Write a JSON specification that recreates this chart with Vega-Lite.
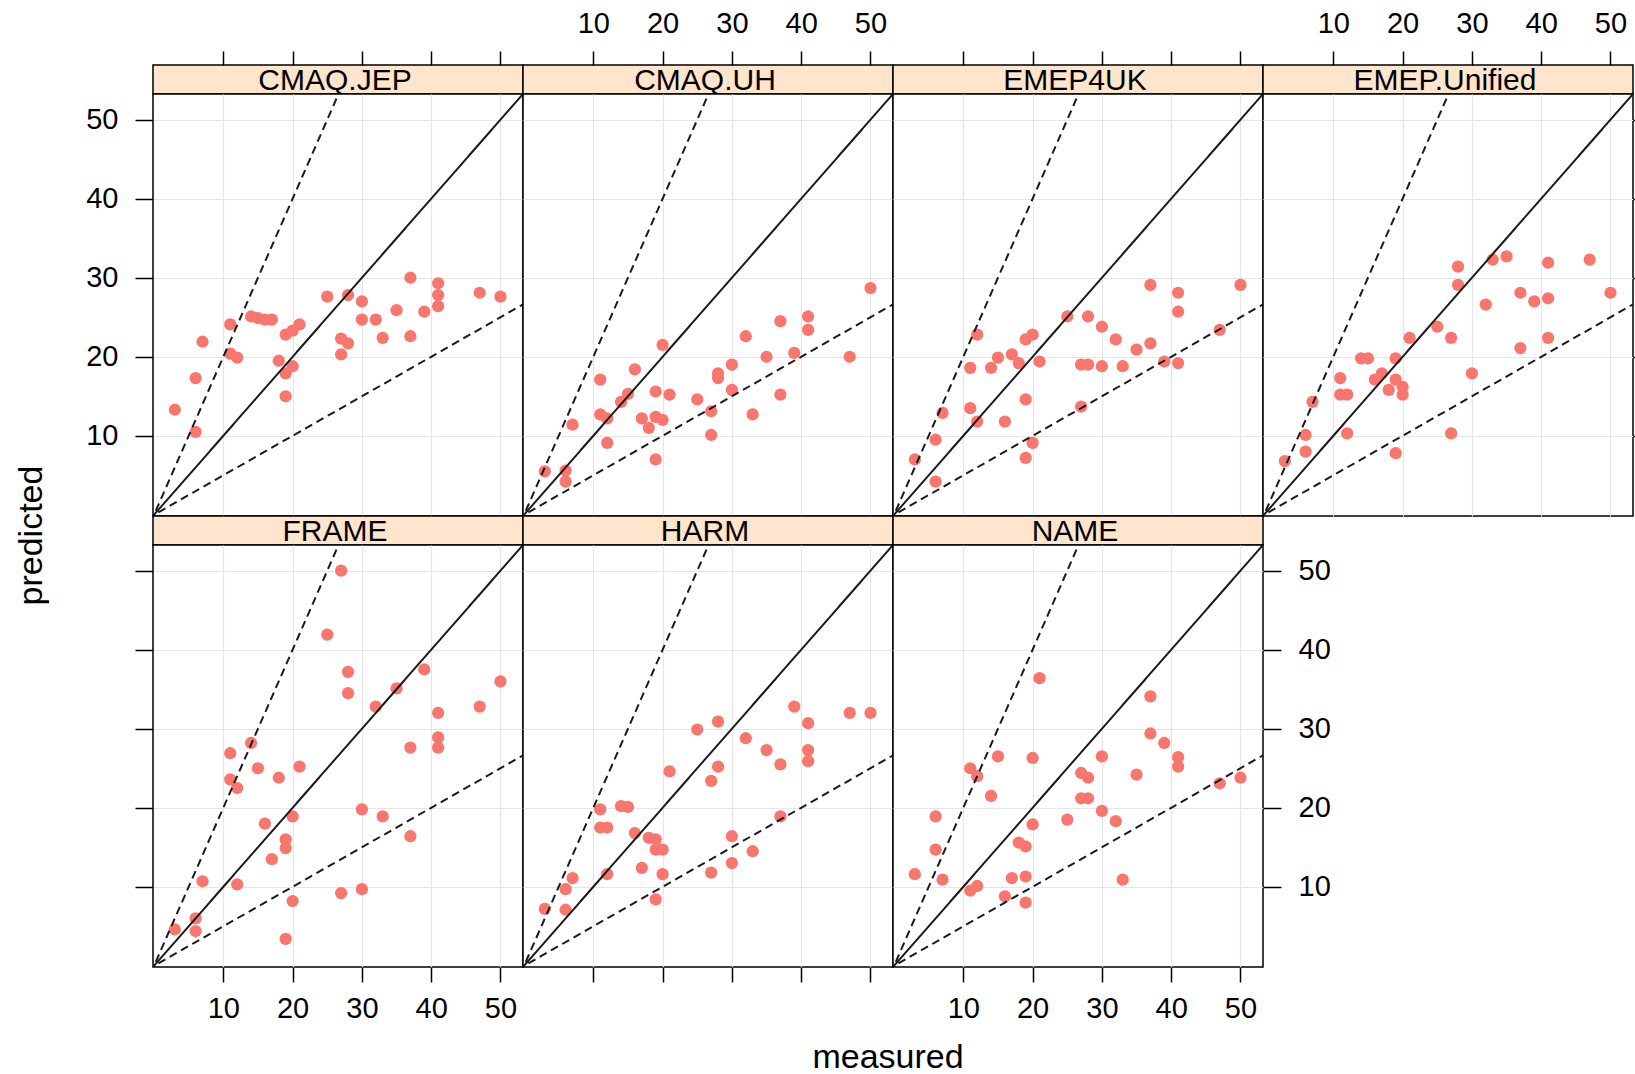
{
  "$schema": "https://vega.github.io/schema/vega-lite/v6.json",
  "background": "white",
  "padding": {"left": 13, "top": 8, "right": 0, "bottom": 0},
  "config": {"font": "Liberation Sans", "view": {"stroke": null}},
  "datasets": {
    "strips": [
      {"model": "CMAQ.JEP"}, {"model": "CMAQ.UH"}, {"model": "EMEP4UK"}, {"model": "EMEP.Unified"},
      {"model": "FRAME"}, {"model": "HARM"}, {"model": "NAME"}
    ],
    "refs": [
      {"line": "a", "style": "solid", "measured": -1, "predicted": -1},
      {"line": "a", "style": "solid", "measured": 60, "predicted": 60},
      {"line": "b", "style": "dashed", "measured": -0.5, "predicted": -1},
      {"line": "b", "style": "dashed", "measured": 30, "predicted": 60},
      {"line": "c", "style": "dashed", "measured": -1, "predicted": -0.5},
      {"line": "c", "style": "dashed", "measured": 60, "predicted": 30}
    ],
    "pts": [
      {"model": "CMAQ.JEP", "measured": 3, "predicted": 13.3},
      {"model": "CMAQ.JEP", "measured": 6, "predicted": 10.5},
      {"model": "CMAQ.JEP", "measured": 6, "predicted": 17.3},
      {"model": "CMAQ.JEP", "measured": 7, "predicted": 21.9},
      {"model": "CMAQ.JEP", "measured": 11, "predicted": 24.1},
      {"model": "CMAQ.JEP", "measured": 11, "predicted": 20.4},
      {"model": "CMAQ.JEP", "measured": 12, "predicted": 19.9},
      {"model": "CMAQ.JEP", "measured": 14, "predicted": 25.1},
      {"model": "CMAQ.JEP", "measured": 15, "predicted": 24.9},
      {"model": "CMAQ.JEP", "measured": 16, "predicted": 24.7},
      {"model": "CMAQ.JEP", "measured": 17, "predicted": 24.7},
      {"model": "CMAQ.JEP", "measured": 18, "predicted": 19.5},
      {"model": "CMAQ.JEP", "measured": 19, "predicted": 22.8},
      {"model": "CMAQ.JEP", "measured": 19, "predicted": 17.9},
      {"model": "CMAQ.JEP", "measured": 19, "predicted": 15.0},
      {"model": "CMAQ.JEP", "measured": 20, "predicted": 18.8},
      {"model": "CMAQ.JEP", "measured": 20, "predicted": 23.3},
      {"model": "CMAQ.JEP", "measured": 21, "predicted": 24.1},
      {"model": "CMAQ.JEP", "measured": 25, "predicted": 27.6},
      {"model": "CMAQ.JEP", "measured": 28, "predicted": 27.8},
      {"model": "CMAQ.JEP", "measured": 30, "predicted": 27.0},
      {"model": "CMAQ.JEP", "measured": 30, "predicted": 24.7},
      {"model": "CMAQ.JEP", "measured": 27, "predicted": 22.3},
      {"model": "CMAQ.JEP", "measured": 28, "predicted": 21.7},
      {"model": "CMAQ.JEP", "measured": 27, "predicted": 20.3},
      {"model": "CMAQ.JEP", "measured": 32, "predicted": 24.7},
      {"model": "CMAQ.JEP", "measured": 33, "predicted": 22.4},
      {"model": "CMAQ.JEP", "measured": 35, "predicted": 25.9},
      {"model": "CMAQ.JEP", "measured": 37, "predicted": 30.0},
      {"model": "CMAQ.JEP", "measured": 37, "predicted": 22.6},
      {"model": "CMAQ.JEP", "measured": 39, "predicted": 25.7},
      {"model": "CMAQ.JEP", "measured": 41, "predicted": 29.3},
      {"model": "CMAQ.JEP", "measured": 41, "predicted": 27.8},
      {"model": "CMAQ.JEP", "measured": 41, "predicted": 26.4},
      {"model": "CMAQ.JEP", "measured": 47, "predicted": 28.1},
      {"model": "CMAQ.JEP", "measured": 50, "predicted": 27.6},

      {"model": "CMAQ.UH", "measured": 3, "predicted": 5.5},
      {"model": "CMAQ.UH", "measured": 6, "predicted": 5.6},
      {"model": "CMAQ.UH", "measured": 6, "predicted": 4.2},
      {"model": "CMAQ.UH", "measured": 7, "predicted": 11.4},
      {"model": "CMAQ.UH", "measured": 11, "predicted": 17.1},
      {"model": "CMAQ.UH", "measured": 11, "predicted": 12.7},
      {"model": "CMAQ.UH", "measured": 12, "predicted": 12.2},
      {"model": "CMAQ.UH", "measured": 12, "predicted": 9.1},
      {"model": "CMAQ.UH", "measured": 14, "predicted": 14.3},
      {"model": "CMAQ.UH", "measured": 15, "predicted": 15.3},
      {"model": "CMAQ.UH", "measured": 16, "predicted": 18.4},
      {"model": "CMAQ.UH", "measured": 17, "predicted": 12.2},
      {"model": "CMAQ.UH", "measured": 18, "predicted": 11.0},
      {"model": "CMAQ.UH", "measured": 19, "predicted": 12.4},
      {"model": "CMAQ.UH", "measured": 19, "predicted": 15.6},
      {"model": "CMAQ.UH", "measured": 19, "predicted": 7.0},
      {"model": "CMAQ.UH", "measured": 20, "predicted": 21.5},
      {"model": "CMAQ.UH", "measured": 20, "predicted": 12.0},
      {"model": "CMAQ.UH", "measured": 21, "predicted": 15.2},
      {"model": "CMAQ.UH", "measured": 25, "predicted": 14.6},
      {"model": "CMAQ.UH", "measured": 27, "predicted": 13.1},
      {"model": "CMAQ.UH", "measured": 27, "predicted": 10.1},
      {"model": "CMAQ.UH", "measured": 28, "predicted": 17.9},
      {"model": "CMAQ.UH", "measured": 28, "predicted": 17.3},
      {"model": "CMAQ.UH", "measured": 30, "predicted": 19.0},
      {"model": "CMAQ.UH", "measured": 30, "predicted": 15.8},
      {"model": "CMAQ.UH", "measured": 32, "predicted": 22.6},
      {"model": "CMAQ.UH", "measured": 33, "predicted": 12.7},
      {"model": "CMAQ.UH", "measured": 35, "predicted": 20.0},
      {"model": "CMAQ.UH", "measured": 37, "predicted": 24.5},
      {"model": "CMAQ.UH", "measured": 37, "predicted": 15.2},
      {"model": "CMAQ.UH", "measured": 39, "predicted": 20.5},
      {"model": "CMAQ.UH", "measured": 41, "predicted": 25.1},
      {"model": "CMAQ.UH", "measured": 41, "predicted": 23.4},
      {"model": "CMAQ.UH", "measured": 47, "predicted": 20.0},
      {"model": "CMAQ.UH", "measured": 50, "predicted": 28.7},

      {"model": "EMEP4UK", "measured": 3, "predicted": 7.0},
      {"model": "EMEP4UK", "measured": 6, "predicted": 4.2},
      {"model": "EMEP4UK", "measured": 6, "predicted": 9.5},
      {"model": "EMEP4UK", "measured": 7, "predicted": 12.9},
      {"model": "EMEP4UK", "measured": 11, "predicted": 18.6},
      {"model": "EMEP4UK", "measured": 11, "predicted": 13.5},
      {"model": "EMEP4UK", "measured": 12, "predicted": 22.8},
      {"model": "EMEP4UK", "measured": 12, "predicted": 11.8},
      {"model": "EMEP4UK", "measured": 14, "predicted": 18.6},
      {"model": "EMEP4UK", "measured": 15, "predicted": 19.9},
      {"model": "EMEP4UK", "measured": 16, "predicted": 11.8},
      {"model": "EMEP4UK", "measured": 17, "predicted": 20.3},
      {"model": "EMEP4UK", "measured": 18, "predicted": 19.2},
      {"model": "EMEP4UK", "measured": 19, "predicted": 22.2},
      {"model": "EMEP4UK", "measured": 19, "predicted": 14.6},
      {"model": "EMEP4UK", "measured": 20, "predicted": 22.8},
      {"model": "EMEP4UK", "measured": 20, "predicted": 9.1},
      {"model": "EMEP4UK", "measured": 19, "predicted": 7.2},
      {"model": "EMEP4UK", "measured": 21, "predicted": 19.4},
      {"model": "EMEP4UK", "measured": 25, "predicted": 25.1},
      {"model": "EMEP4UK", "measured": 27, "predicted": 13.7},
      {"model": "EMEP4UK", "measured": 27, "predicted": 19.0},
      {"model": "EMEP4UK", "measured": 28, "predicted": 19.0},
      {"model": "EMEP4UK", "measured": 28, "predicted": 25.1},
      {"model": "EMEP4UK", "measured": 30, "predicted": 23.8},
      {"model": "EMEP4UK", "measured": 30, "predicted": 18.8},
      {"model": "EMEP4UK", "measured": 32, "predicted": 22.2},
      {"model": "EMEP4UK", "measured": 33, "predicted": 18.8},
      {"model": "EMEP4UK", "measured": 35, "predicted": 20.9},
      {"model": "EMEP4UK", "measured": 37, "predicted": 21.7},
      {"model": "EMEP4UK", "measured": 37, "predicted": 29.1},
      {"model": "EMEP4UK", "measured": 39, "predicted": 19.4},
      {"model": "EMEP4UK", "measured": 41, "predicted": 28.1},
      {"model": "EMEP4UK", "measured": 41, "predicted": 25.7},
      {"model": "EMEP4UK", "measured": 41, "predicted": 19.2},
      {"model": "EMEP4UK", "measured": 47, "predicted": 23.4},
      {"model": "EMEP4UK", "measured": 50, "predicted": 29.1},

      {"model": "EMEP.Unified", "measured": 3, "predicted": 6.8},
      {"model": "EMEP.Unified", "measured": 6, "predicted": 8.0},
      {"model": "EMEP.Unified", "measured": 6, "predicted": 10.1},
      {"model": "EMEP.Unified", "measured": 7, "predicted": 14.3},
      {"model": "EMEP.Unified", "measured": 11, "predicted": 17.3},
      {"model": "EMEP.Unified", "measured": 11, "predicted": 15.2},
      {"model": "EMEP.Unified", "measured": 12, "predicted": 15.2},
      {"model": "EMEP.Unified", "measured": 12, "predicted": 10.3},
      {"model": "EMEP.Unified", "measured": 14, "predicted": 19.8},
      {"model": "EMEP.Unified", "measured": 15, "predicted": 19.8},
      {"model": "EMEP.Unified", "measured": 16, "predicted": 17.1},
      {"model": "EMEP.Unified", "measured": 17, "predicted": 17.9},
      {"model": "EMEP.Unified", "measured": 18, "predicted": 15.8},
      {"model": "EMEP.Unified", "measured": 19, "predicted": 19.8},
      {"model": "EMEP.Unified", "measured": 19, "predicted": 17.1},
      {"model": "EMEP.Unified", "measured": 20, "predicted": 16.2},
      {"model": "EMEP.Unified", "measured": 20, "predicted": 15.2},
      {"model": "EMEP.Unified", "measured": 19, "predicted": 7.8},
      {"model": "EMEP.Unified", "measured": 21, "predicted": 22.4},
      {"model": "EMEP.Unified", "measured": 25, "predicted": 23.8},
      {"model": "EMEP.Unified", "measured": 27, "predicted": 22.4},
      {"model": "EMEP.Unified", "measured": 27, "predicted": 10.3},
      {"model": "EMEP.Unified", "measured": 28, "predicted": 31.4},
      {"model": "EMEP.Unified", "measured": 28, "predicted": 29.1},
      {"model": "EMEP.Unified", "measured": 30, "predicted": 17.9},
      {"model": "EMEP.Unified", "measured": 32, "predicted": 26.6},
      {"model": "EMEP.Unified", "measured": 33, "predicted": 32.3},
      {"model": "EMEP.Unified", "measured": 35, "predicted": 32.7},
      {"model": "EMEP.Unified", "measured": 37, "predicted": 28.1},
      {"model": "EMEP.Unified", "measured": 37, "predicted": 21.1},
      {"model": "EMEP.Unified", "measured": 39, "predicted": 27.0},
      {"model": "EMEP.Unified", "measured": 41, "predicted": 31.9},
      {"model": "EMEP.Unified", "measured": 41, "predicted": 27.4},
      {"model": "EMEP.Unified", "measured": 41, "predicted": 22.4},
      {"model": "EMEP.Unified", "measured": 47, "predicted": 32.3},
      {"model": "EMEP.Unified", "measured": 50, "predicted": 28.1},

      {"model": "FRAME", "measured": 3, "predicted": 4.6},
      {"model": "FRAME", "measured": 6, "predicted": 6.0},
      {"model": "FRAME", "measured": 6, "predicted": 4.4},
      {"model": "FRAME", "measured": 7, "predicted": 10.7},
      {"model": "FRAME", "measured": 11, "predicted": 26.9},
      {"model": "FRAME", "measured": 11, "predicted": 23.6},
      {"model": "FRAME", "measured": 12, "predicted": 22.5},
      {"model": "FRAME", "measured": 12, "predicted": 10.3},
      {"model": "FRAME", "measured": 14, "predicted": 28.2},
      {"model": "FRAME", "measured": 15, "predicted": 25.0},
      {"model": "FRAME", "measured": 16, "predicted": 18.0},
      {"model": "FRAME", "measured": 17, "predicted": 13.5},
      {"model": "FRAME", "measured": 18, "predicted": 23.8},
      {"model": "FRAME", "measured": 19, "predicted": 16.0},
      {"model": "FRAME", "measured": 19, "predicted": 14.9},
      {"model": "FRAME", "measured": 19, "predicted": 3.4},
      {"model": "FRAME", "measured": 20, "predicted": 18.9},
      {"model": "FRAME", "measured": 20, "predicted": 8.2},
      {"model": "FRAME", "measured": 21, "predicted": 25.2},
      {"model": "FRAME", "measured": 25, "predicted": 41.9},
      {"model": "FRAME", "measured": 27, "predicted": 50.0},
      {"model": "FRAME", "measured": 27, "predicted": 9.2},
      {"model": "FRAME", "measured": 28, "predicted": 37.2},
      {"model": "FRAME", "measured": 28, "predicted": 34.5},
      {"model": "FRAME", "measured": 30, "predicted": 19.8},
      {"model": "FRAME", "measured": 30, "predicted": 9.7},
      {"model": "FRAME", "measured": 32, "predicted": 32.8},
      {"model": "FRAME", "measured": 33, "predicted": 18.9},
      {"model": "FRAME", "measured": 35, "predicted": 35.1},
      {"model": "FRAME", "measured": 37, "predicted": 27.6},
      {"model": "FRAME", "measured": 37, "predicted": 16.4},
      {"model": "FRAME", "measured": 39, "predicted": 37.5},
      {"model": "FRAME", "measured": 41, "predicted": 32.0},
      {"model": "FRAME", "measured": 41, "predicted": 28.9},
      {"model": "FRAME", "measured": 41, "predicted": 27.6},
      {"model": "FRAME", "measured": 47, "predicted": 32.8},
      {"model": "FRAME", "measured": 50, "predicted": 36.0},

      {"model": "HARM", "measured": 3, "predicted": 7.2},
      {"model": "HARM", "measured": 6, "predicted": 7.1},
      {"model": "HARM", "measured": 6, "predicted": 9.7},
      {"model": "HARM", "measured": 7, "predicted": 11.1},
      {"model": "HARM", "measured": 11, "predicted": 19.8},
      {"model": "HARM", "measured": 11, "predicted": 17.5},
      {"model": "HARM", "measured": 12, "predicted": 17.5},
      {"model": "HARM", "measured": 12, "predicted": 11.6},
      {"model": "HARM", "measured": 14, "predicted": 20.2},
      {"model": "HARM", "measured": 15, "predicted": 20.1},
      {"model": "HARM", "measured": 16, "predicted": 16.8},
      {"model": "HARM", "measured": 17, "predicted": 12.4},
      {"model": "HARM", "measured": 18, "predicted": 16.2},
      {"model": "HARM", "measured": 19, "predicted": 16.0},
      {"model": "HARM", "measured": 19, "predicted": 14.7},
      {"model": "HARM", "measured": 19, "predicted": 8.4},
      {"model": "HARM", "measured": 20, "predicted": 14.7},
      {"model": "HARM", "measured": 20, "predicted": 11.6},
      {"model": "HARM", "measured": 21, "predicted": 24.6},
      {"model": "HARM", "measured": 25, "predicted": 29.9},
      {"model": "HARM", "measured": 27, "predicted": 23.4},
      {"model": "HARM", "measured": 27, "predicted": 11.8},
      {"model": "HARM", "measured": 28, "predicted": 30.9},
      {"model": "HARM", "measured": 28, "predicted": 25.2},
      {"model": "HARM", "measured": 30, "predicted": 16.4},
      {"model": "HARM", "measured": 30, "predicted": 13.0},
      {"model": "HARM", "measured": 32, "predicted": 28.8},
      {"model": "HARM", "measured": 33, "predicted": 14.5},
      {"model": "HARM", "measured": 35, "predicted": 27.3},
      {"model": "HARM", "measured": 37, "predicted": 25.5},
      {"model": "HARM", "measured": 37, "predicted": 18.9},
      {"model": "HARM", "measured": 39, "predicted": 32.8},
      {"model": "HARM", "measured": 41, "predicted": 30.7},
      {"model": "HARM", "measured": 41, "predicted": 27.3},
      {"model": "HARM", "measured": 41, "predicted": 25.9},
      {"model": "HARM", "measured": 47, "predicted": 32.0},
      {"model": "HARM", "measured": 50, "predicted": 32.0},

      {"model": "NAME", "measured": 3, "predicted": 11.6},
      {"model": "NAME", "measured": 6, "predicted": 18.9},
      {"model": "NAME", "measured": 6, "predicted": 14.7},
      {"model": "NAME", "measured": 7, "predicted": 10.9},
      {"model": "NAME", "measured": 11, "predicted": 25.0},
      {"model": "NAME", "measured": 11, "predicted": 9.5},
      {"model": "NAME", "measured": 12, "predicted": 24.0},
      {"model": "NAME", "measured": 12, "predicted": 10.1},
      {"model": "NAME", "measured": 14, "predicted": 21.5},
      {"model": "NAME", "measured": 15, "predicted": 26.5},
      {"model": "NAME", "measured": 16, "predicted": 8.8},
      {"model": "NAME", "measured": 17, "predicted": 11.1},
      {"model": "NAME", "measured": 18, "predicted": 15.6},
      {"model": "NAME", "measured": 19, "predicted": 15.1},
      {"model": "NAME", "measured": 19, "predicted": 11.3},
      {"model": "NAME", "measured": 19, "predicted": 8.0},
      {"model": "NAME", "measured": 20, "predicted": 26.3},
      {"model": "NAME", "measured": 20, "predicted": 17.9},
      {"model": "NAME", "measured": 21, "predicted": 36.4},
      {"model": "NAME", "measured": 25, "predicted": 18.5},
      {"model": "NAME", "measured": 27, "predicted": 24.4},
      {"model": "NAME", "measured": 27, "predicted": 21.2},
      {"model": "NAME", "measured": 28, "predicted": 23.8},
      {"model": "NAME", "measured": 28, "predicted": 21.2},
      {"model": "NAME", "measured": 30, "predicted": 26.5},
      {"model": "NAME", "measured": 30, "predicted": 19.6},
      {"model": "NAME", "measured": 32, "predicted": 18.3},
      {"model": "NAME", "measured": 33, "predicted": 10.9},
      {"model": "NAME", "measured": 35, "predicted": 24.2},
      {"model": "NAME", "measured": 37, "predicted": 34.1},
      {"model": "NAME", "measured": 37, "predicted": 29.4},
      {"model": "NAME", "measured": 39, "predicted": 28.2},
      {"model": "NAME", "measured": 41, "predicted": 26.4},
      {"model": "NAME", "measured": 41, "predicted": 25.2},
      {"model": "NAME", "measured": 47, "predicted": 23.1},
      {"model": "NAME", "measured": 50, "predicted": 23.8}
    ]
  },
  "columns": 4,
  "spacing": 0,
  "bounds": "flush",
  "align": "each",
  "concat": [
    {
      "width": 370, "height": 29,
      "view": {"fill": "#ffe5cc", "stroke": "black", "strokeWidth": 1.5},
      "layer": [
        {"data": {"name": "pts"}, "transform": [{"filter": "datum.model === 'CMAQ.JEP'"}],
         "mark": {"type": "point", "opacity": 0},
         "encoding": {"x": {"field": "measured", "type": "quantitative", "scale": {"domain": [-0.15, 53.25], "nice": false, "zero": false},
           "axis": {"orient": "top", "values": [10, 20, 30, 40, 50], "grid": false, "domain": false, "tickSize": 14, "tickWidth": 1.5, "tickColor": "black", "labels": false, "title": null}}}},
        {"data": {"name": "strips"}, "transform": [{"filter": "datum.model === 'CMAQ.JEP'"}],
         "mark": {"type": "text", "font": "Liberation Sans", "fontSize": 30, "color": "black", "baseline": "middle", "align": "center", "dx": -3, "dy": 1},
         "encoding": {"text": {"field": "model", "type": "nominal"}}}
      ]
    },
    {
      "width": 370, "height": 29,
      "view": {"fill": "#ffe5cc", "stroke": "black", "strokeWidth": 1.5},
      "layer": [
        {"data": {"name": "pts"}, "transform": [{"filter": "datum.model === 'CMAQ.UH'"}],
         "mark": {"type": "point", "opacity": 0},
         "encoding": {"x": {"field": "measured", "type": "quantitative", "scale": {"domain": [-0.15, 53.25], "nice": false, "zero": false},
           "axis": {"orient": "top", "values": [10, 20, 30, 40, 50], "grid": false, "domain": false, "tickSize": 14, "tickWidth": 1.5, "tickColor": "black",
             "labelFont": "Liberation Sans", "labelFontSize": 29, "labelColor": "black", "labelPadding": 19, "labelBaseline": "alphabetic", "labelFlush": false, "labelOverlap": false, "title": null}}}},
        {"data": {"name": "strips"}, "transform": [{"filter": "datum.model === 'CMAQ.UH'"}],
         "mark": {"type": "text", "font": "Liberation Sans", "fontSize": 30, "color": "black", "baseline": "middle", "align": "center", "dx": -3, "dy": 1},
         "encoding": {"text": {"field": "model", "type": "nominal"}}}
      ]
    },
    {
      "width": 370, "height": 29,
      "view": {"fill": "#ffe5cc", "stroke": "black", "strokeWidth": 1.5},
      "layer": [
        {"data": {"name": "pts"}, "transform": [{"filter": "datum.model === 'EMEP4UK'"}],
         "mark": {"type": "point", "opacity": 0},
         "encoding": {"x": {"field": "measured", "type": "quantitative", "scale": {"domain": [-0.15, 53.25], "nice": false, "zero": false},
           "axis": {"orient": "top", "values": [10, 20, 30, 40, 50], "grid": false, "domain": false, "tickSize": 14, "tickWidth": 1.5, "tickColor": "black", "labels": false, "title": null}}}},
        {"data": {"name": "strips"}, "transform": [{"filter": "datum.model === 'EMEP4UK'"}],
         "mark": {"type": "text", "font": "Liberation Sans", "fontSize": 30, "color": "black", "baseline": "middle", "align": "center", "dx": -3, "dy": 1},
         "encoding": {"text": {"field": "model", "type": "nominal"}}}
      ]
    },
    {
      "width": 370, "height": 29,
      "view": {"fill": "#ffe5cc", "stroke": "black", "strokeWidth": 1.5},
      "layer": [
        {"data": {"name": "pts"}, "transform": [{"filter": "datum.model === 'EMEP.Unified'"}],
         "mark": {"type": "point", "opacity": 0},
         "encoding": {"x": {"field": "measured", "type": "quantitative", "scale": {"domain": [-0.15, 53.25], "nice": false, "zero": false},
           "axis": {"orient": "top", "values": [10, 20, 30, 40, 50], "grid": false, "domain": false, "tickSize": 14, "tickWidth": 1.5, "tickColor": "black",
             "labelFont": "Liberation Sans", "labelFontSize": 29, "labelColor": "black", "labelPadding": 19, "labelBaseline": "alphabetic", "labelFlush": false, "labelOverlap": false, "title": null}}}},
        {"data": {"name": "strips"}, "transform": [{"filter": "datum.model === 'EMEP.Unified'"}],
         "mark": {"type": "text", "font": "Liberation Sans", "fontSize": 30, "color": "black", "baseline": "middle", "align": "center", "dx": -3, "dy": 1},
         "encoding": {"text": {"field": "model", "type": "nominal"}}}
      ]
    },
    {
      "width": 370, "height": 422,
      "view": {"fill": "white", "stroke": "black", "strokeWidth": 1.5},
      "layer": [
        {"data": {"name": "pts"}, "transform": [{"filter": "datum.model === 'CMAQ.JEP'"}],
         "mark": {"type": "circle", "size": 150, "opacity": 1, "color": "#f8766d"},
         "encoding": {
           "x": {"field": "measured", "type": "quantitative", "scale": {"domain": [-0.15, 53.25], "nice": false, "zero": false}, "axis": null},
           "y": {"field": "predicted", "type": "quantitative", "scale": {"domain": [-0.15, 53.25], "nice": false, "zero": false},
             "axis": {"orient": "left", "values": [10, 20, 30, 40, 50], "grid": false, "domain": false, "tickSize": 18, "tickWidth": 1.5, "tickColor": "black",
               "labelFont": "Liberation Sans", "labelFontSize": 29, "labelColor": "black", "labelPadding": 17, "labelFlush": false, "labelOverlap": false,
               "title": "predicted", "titleFont": "Liberation Sans", "titleFontSize": 34, "titleFontWeight": "normal", "titleColor": "black",
               "titleX": -121.5, "titleY": 441, "titleAngle": 270, "titleAlign": "center", "titleBaseline": "middle"}}}},
        {"data": {"name": "refs"},
         "mark": {"type": "line", "clip": true, "color": "#1a1a1a", "strokeWidth": 2},
         "encoding": {
           "x": {"field": "measured", "type": "quantitative", "scale": {"domain": [-0.15, 53.25], "nice": false, "zero": false},
             "axis": {"orient": "bottom", "grid": true, "gridColor": "#e6e6e6", "gridWidth": 1.2, "ticks": false, "labels": false, "domain": false, "title": null, "values": [10, 20, 30, 40, 50]}},
           "y": {"field": "predicted", "type": "quantitative", "scale": {"domain": [-0.15, 53.25], "nice": false, "zero": false},
             "axis": {"orient": "right", "grid": true, "gridColor": "#e6e6e6", "gridWidth": 1.2, "ticks": false, "labels": false, "domain": false, "title": null, "values": [10, 20, 30, 40, 50]}},
           "detail": {"field": "line", "type": "nominal"},
           "strokeDash": {"field": "style", "type": "nominal", "scale": {"domain": ["solid", "dashed"], "range": [[1, 0], [8, 5]]}, "legend": null}}}
      ],
      "resolve": {"axis": {"x": "independent", "y": "independent"}}
    },
    {
      "width": 370, "height": 422,
      "view": {"fill": "white", "stroke": "black", "strokeWidth": 1.5},
      "layer": [
        {"data": {"name": "pts"}, "transform": [{"filter": "datum.model === 'CMAQ.UH'"}],
         "mark": {"type": "circle", "size": 150, "opacity": 1, "color": "#f8766d"},
         "encoding": {
           "x": {"field": "measured", "type": "quantitative", "scale": {"domain": [-0.15, 53.25], "nice": false, "zero": false}, "axis": null},
           "y": {"field": "predicted", "type": "quantitative", "scale": {"domain": [-0.15, 53.25], "nice": false, "zero": false}, "axis": null}}},
        {"data": {"name": "refs"},
         "mark": {"type": "line", "clip": true, "color": "#1a1a1a", "strokeWidth": 2},
         "encoding": {
           "x": {"field": "measured", "type": "quantitative", "scale": {"domain": [-0.15, 53.25], "nice": false, "zero": false},
             "axis": {"orient": "bottom", "grid": true, "gridColor": "#e6e6e6", "gridWidth": 1.2, "ticks": false, "labels": false, "domain": false, "title": null, "values": [10, 20, 30, 40, 50]}},
           "y": {"field": "predicted", "type": "quantitative", "scale": {"domain": [-0.15, 53.25], "nice": false, "zero": false},
             "axis": {"orient": "right", "grid": true, "gridColor": "#e6e6e6", "gridWidth": 1.2, "ticks": false, "labels": false, "domain": false, "title": null, "values": [10, 20, 30, 40, 50]}},
           "detail": {"field": "line", "type": "nominal"},
           "strokeDash": {"field": "style", "type": "nominal", "scale": {"domain": ["solid", "dashed"], "range": [[1, 0], [8, 5]]}, "legend": null}}}
      ],
      "resolve": {"axis": {"x": "independent", "y": "independent"}}
    },
    {
      "width": 370, "height": 422,
      "view": {"fill": "white", "stroke": "black", "strokeWidth": 1.5},
      "layer": [
        {"data": {"name": "pts"}, "transform": [{"filter": "datum.model === 'EMEP4UK'"}],
         "mark": {"type": "circle", "size": 150, "opacity": 1, "color": "#f8766d"},
         "encoding": {
           "x": {"field": "measured", "type": "quantitative", "scale": {"domain": [-0.15, 53.25], "nice": false, "zero": false}, "axis": null},
           "y": {"field": "predicted", "type": "quantitative", "scale": {"domain": [-0.15, 53.25], "nice": false, "zero": false}, "axis": null}}},
        {"data": {"name": "refs"},
         "mark": {"type": "line", "clip": true, "color": "#1a1a1a", "strokeWidth": 2},
         "encoding": {
           "x": {"field": "measured", "type": "quantitative", "scale": {"domain": [-0.15, 53.25], "nice": false, "zero": false},
             "axis": {"orient": "bottom", "grid": true, "gridColor": "#e6e6e6", "gridWidth": 1.2, "ticks": false, "labels": false, "domain": false, "title": null, "values": [10, 20, 30, 40, 50]}},
           "y": {"field": "predicted", "type": "quantitative", "scale": {"domain": [-0.15, 53.25], "nice": false, "zero": false},
             "axis": {"orient": "right", "grid": true, "gridColor": "#e6e6e6", "gridWidth": 1.2, "ticks": false, "labels": false, "domain": false, "title": null, "values": [10, 20, 30, 40, 50]}},
           "detail": {"field": "line", "type": "nominal"},
           "strokeDash": {"field": "style", "type": "nominal", "scale": {"domain": ["solid", "dashed"], "range": [[1, 0], [8, 5]]}, "legend": null}}}
      ],
      "resolve": {"axis": {"x": "independent", "y": "independent"}}
    },
    {
      "width": 370, "height": 422,
      "view": {"fill": "white", "stroke": "black", "strokeWidth": 1.5},
      "layer": [
        {"data": {"name": "pts"}, "transform": [{"filter": "datum.model === 'EMEP.Unified'"}],
         "mark": {"type": "circle", "size": 150, "opacity": 1, "color": "#f8766d"},
         "encoding": {
           "x": {"field": "measured", "type": "quantitative", "scale": {"domain": [-0.15, 53.25], "nice": false, "zero": false}, "axis": null},
           "y": {"field": "predicted", "type": "quantitative", "scale": {"domain": [-0.15, 53.25], "nice": false, "zero": false},
             "axis": {"orient": "right", "values": [10, 20, 30, 40, 50], "grid": false, "domain": false, "tickSize": 18, "tickWidth": 1.5, "tickColor": "black", "labels": false, "title": null}}}},
        {"data": {"name": "refs"},
         "mark": {"type": "line", "clip": true, "color": "#1a1a1a", "strokeWidth": 2},
         "encoding": {
           "x": {"field": "measured", "type": "quantitative", "scale": {"domain": [-0.15, 53.25], "nice": false, "zero": false},
             "axis": {"orient": "bottom", "grid": true, "gridColor": "#e6e6e6", "gridWidth": 1.2, "ticks": false, "labels": false, "domain": false, "title": null, "values": [10, 20, 30, 40, 50]}},
           "y": {"field": "predicted", "type": "quantitative", "scale": {"domain": [-0.15, 53.25], "nice": false, "zero": false},
             "axis": {"orient": "left", "grid": true, "gridColor": "#e6e6e6", "gridWidth": 1.2, "ticks": false, "labels": false, "domain": false, "title": null, "values": [10, 20, 30, 40, 50]}},
           "detail": {"field": "line", "type": "nominal"},
           "strokeDash": {"field": "style", "type": "nominal", "scale": {"domain": ["solid", "dashed"], "range": [[1, 0], [8, 5]]}, "legend": null}}}
      ],
      "resolve": {"axis": {"x": "independent", "y": "independent"}}
    },
    {
      "width": 370, "height": 29,
      "view": {"fill": "#ffe5cc", "stroke": "black", "strokeWidth": 1.5},
      "data": {"name": "strips"}, "transform": [{"filter": "datum.model === 'FRAME'"}],
      "mark": {"type": "text", "font": "Liberation Sans", "fontSize": 30, "color": "black", "baseline": "middle", "align": "center", "dx": -3, "dy": 1},
      "encoding": {"text": {"field": "model", "type": "nominal"}}
    },
    {
      "width": 370, "height": 29,
      "view": {"fill": "#ffe5cc", "stroke": "black", "strokeWidth": 1.5},
      "data": {"name": "strips"}, "transform": [{"filter": "datum.model === 'HARM'"}],
      "mark": {"type": "text", "font": "Liberation Sans", "fontSize": 30, "color": "black", "baseline": "middle", "align": "center", "dx": -3, "dy": 1},
      "encoding": {"text": {"field": "model", "type": "nominal"}}
    },
    {
      "width": 370, "height": 29,
      "view": {"fill": "#ffe5cc", "stroke": "black", "strokeWidth": 1.5},
      "data": {"name": "strips"}, "transform": [{"filter": "datum.model === 'NAME'"}],
      "mark": {"type": "text", "font": "Liberation Sans", "fontSize": 30, "color": "black", "baseline": "middle", "align": "center", "dx": -3, "dy": 1},
      "encoding": {"text": {"field": "model", "type": "nominal"}}
    },
    {
      "width": 370, "height": 29,
      "view": {"stroke": null, "fill": null},
      "data": {"name": "strips"}, "transform": [{"filter": "false"}],
      "mark": {"type": "text"},
      "encoding": {"text": {"field": "model", "type": "nominal"}}
    },
    {
      "width": 370, "height": 422,
      "view": {"fill": "white", "stroke": "black", "strokeWidth": 1.5},
      "layer": [
        {"data": {"name": "pts"}, "transform": [{"filter": "datum.model === 'FRAME'"}],
         "mark": {"type": "circle", "size": 150, "opacity": 1, "color": "#f8766d"},
         "encoding": {
           "x": {"field": "measured", "type": "quantitative", "scale": {"domain": [-0.15, 53.25], "nice": false, "zero": false},
             "axis": {"orient": "bottom", "values": [10, 20, 30, 40, 50], "grid": false, "domain": false, "tickSize": 15, "tickWidth": 1.5, "tickColor": "black",
               "labelFont": "Liberation Sans", "labelFontSize": 29, "labelColor": "black", "labelPadding": 12, "labelFlush": false, "labelOverlap": false, "title": null}},
           "y": {"field": "predicted", "type": "quantitative", "scale": {"domain": [-0.15, 53.25], "nice": false, "zero": false},
             "axis": {"orient": "left", "values": [10, 20, 30, 40, 50], "grid": false, "domain": false, "tickSize": 18, "tickWidth": 1.5, "tickColor": "black", "labels": false, "title": null}}}},
        {"data": {"name": "refs"},
         "mark": {"type": "line", "clip": true, "color": "#1a1a1a", "strokeWidth": 2},
         "encoding": {
           "x": {"field": "measured", "type": "quantitative", "scale": {"domain": [-0.15, 53.25], "nice": false, "zero": false},
             "axis": {"orient": "top", "grid": true, "gridColor": "#e6e6e6", "gridWidth": 1.2, "ticks": false, "labels": false, "domain": false, "title": null, "values": [10, 20, 30, 40, 50]}},
           "y": {"field": "predicted", "type": "quantitative", "scale": {"domain": [-0.15, 53.25], "nice": false, "zero": false},
             "axis": {"orient": "right", "grid": true, "gridColor": "#e6e6e6", "gridWidth": 1.2, "ticks": false, "labels": false, "domain": false, "title": null, "values": [10, 20, 30, 40, 50]}},
           "detail": {"field": "line", "type": "nominal"},
           "strokeDash": {"field": "style", "type": "nominal", "scale": {"domain": ["solid", "dashed"], "range": [[1, 0], [8, 5]]}, "legend": null}}}
      ],
      "resolve": {"axis": {"x": "independent", "y": "independent"}}
    },
    {
      "width": 370, "height": 422,
      "view": {"fill": "white", "stroke": "black", "strokeWidth": 1.5},
      "layer": [
        {"data": {"name": "pts"}, "transform": [{"filter": "datum.model === 'HARM'"}],
         "mark": {"type": "circle", "size": 150, "opacity": 1, "color": "#f8766d"},
         "encoding": {
           "x": {"field": "measured", "type": "quantitative", "scale": {"domain": [-0.15, 53.25], "nice": false, "zero": false},
             "axis": {"orient": "bottom", "values": [10, 20, 30, 40, 50], "grid": false, "domain": false, "tickSize": 15, "tickWidth": 1.5, "tickColor": "black", "labels": false,
               "title": "measured", "titleFont": "Liberation Sans", "titleFontSize": 34, "titleFontWeight": "normal", "titleColor": "black",
               "titleX": 364.5, "titleY": 90, "titleAlign": "center", "titleBaseline": "middle"}},
           "y": {"field": "predicted", "type": "quantitative", "scale": {"domain": [-0.15, 53.25], "nice": false, "zero": false}, "axis": null}}},
        {"data": {"name": "refs"},
         "mark": {"type": "line", "clip": true, "color": "#1a1a1a", "strokeWidth": 2},
         "encoding": {
           "x": {"field": "measured", "type": "quantitative", "scale": {"domain": [-0.15, 53.25], "nice": false, "zero": false},
             "axis": {"orient": "top", "grid": true, "gridColor": "#e6e6e6", "gridWidth": 1.2, "ticks": false, "labels": false, "domain": false, "title": null, "values": [10, 20, 30, 40, 50]}},
           "y": {"field": "predicted", "type": "quantitative", "scale": {"domain": [-0.15, 53.25], "nice": false, "zero": false},
             "axis": {"orient": "right", "grid": true, "gridColor": "#e6e6e6", "gridWidth": 1.2, "ticks": false, "labels": false, "domain": false, "title": null, "values": [10, 20, 30, 40, 50]}},
           "detail": {"field": "line", "type": "nominal"},
           "strokeDash": {"field": "style", "type": "nominal", "scale": {"domain": ["solid", "dashed"], "range": [[1, 0], [8, 5]]}, "legend": null}}}
      ],
      "resolve": {"axis": {"x": "independent", "y": "independent"}}
    },
    {
      "width": 370, "height": 422,
      "view": {"fill": "white", "stroke": "black", "strokeWidth": 1.5},
      "layer": [
        {"data": {"name": "pts"}, "transform": [{"filter": "datum.model === 'NAME'"}],
         "mark": {"type": "circle", "size": 150, "opacity": 1, "color": "#f8766d"},
         "encoding": {
           "x": {"field": "measured", "type": "quantitative", "scale": {"domain": [-0.15, 53.25], "nice": false, "zero": false},
             "axis": {"orient": "bottom", "values": [10, 20, 30, 40, 50], "grid": false, "domain": false, "tickSize": 15, "tickWidth": 1.5, "tickColor": "black",
               "labelFont": "Liberation Sans", "labelFontSize": 29, "labelColor": "black", "labelPadding": 12, "labelFlush": false, "labelOverlap": false, "title": null}},
           "y": {"field": "predicted", "type": "quantitative", "scale": {"domain": [-0.15, 53.25], "nice": false, "zero": false},
             "axis": {"orient": "right", "values": [10, 20, 30, 40, 50], "grid": false, "domain": false, "tickSize": 18, "tickWidth": 1.5, "tickColor": "black",
               "labelFont": "Liberation Sans", "labelFontSize": 29, "labelColor": "black", "labelPadding": 17, "labelFlush": false, "labelOverlap": false, "title": null}}}},
        {"data": {"name": "refs"},
         "mark": {"type": "line", "clip": true, "color": "#1a1a1a", "strokeWidth": 2},
         "encoding": {
           "x": {"field": "measured", "type": "quantitative", "scale": {"domain": [-0.15, 53.25], "nice": false, "zero": false},
             "axis": {"orient": "top", "grid": true, "gridColor": "#e6e6e6", "gridWidth": 1.2, "ticks": false, "labels": false, "domain": false, "title": null, "values": [10, 20, 30, 40, 50]}},
           "y": {"field": "predicted", "type": "quantitative", "scale": {"domain": [-0.15, 53.25], "nice": false, "zero": false},
             "axis": {"orient": "left", "grid": true, "gridColor": "#e6e6e6", "gridWidth": 1.2, "ticks": false, "labels": false, "domain": false, "title": null, "values": [10, 20, 30, 40, 50]}},
           "detail": {"field": "line", "type": "nominal"},
           "strokeDash": {"field": "style", "type": "nominal", "scale": {"domain": ["solid", "dashed"], "range": [[1, 0], [8, 5]]}, "legend": null}}}
      ],
      "resolve": {"axis": {"x": "independent", "y": "independent"}}
    },
    {
      "width": 370, "height": 422,
      "view": {"stroke": null, "fill": null},
      "data": {"name": "strips"}, "transform": [{"filter": "false"}],
      "mark": {"type": "text"},
      "encoding": {"text": {"field": "model", "type": "nominal"}}
    }
  ]
}
